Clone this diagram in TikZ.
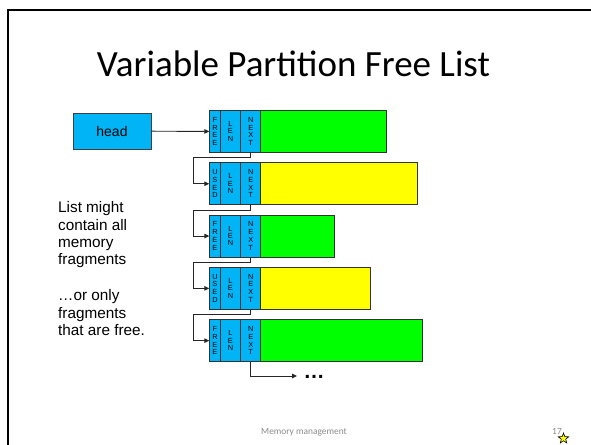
\documentclass[tikz,border=0pt]{standalone}
\usepackage{fontspec}
\setmainfont{Liberation Sans}
\newfontfamily\slidefont{Carlito}
\usetikzlibrary{shapes.geometric,arrows.meta}
\definecolor{cellblue}{RGB}{0,180,245}
\definecolor{freegreen}{RGB}{0,255,0}
\definecolor{usedyellow}{RGB}{255,255,0}
\definecolor{footgray}{RGB}{140,140,140}
\tikzset{
  cell/.style={draw=black!80, line width=0.9pt, minimum height=42pt, inner sep=0pt,
    anchor=north west, align=center, font=\fontsize{7.4}{7.8}\selectfont},
  tag/.style={cell, fill=cellblue, minimum width=10.4pt},
  lenfield/.style={cell, fill=cellblue, minimum width=20.6pt, font=\fontsize{7.4}{7.4}\selectfont},
  nextfield/.style={cell, fill=cellblue, minimum width=20pt},
  freedata/.style={cell, fill=freegreen},
  useddata/.style={cell, fill=usedyellow},
  headbox/.style={draw=black!75, line width=0.9pt, fill=cellblue, minimum width=78pt,
    minimum height=36pt, inner sep=0pt, font=\fontsize{14}{16}\selectfont},
  link/.style={draw=black!85, line width=0.9pt, -{Triangle[length=5pt,width=4.5pt]}},
  bodytext/.style={anchor=north west, inner sep=0pt, align=left,
    font=\fontsize{15.3}{17.3}\selectfont},
}
\begin{document}
\begin{tikzpicture}[x=1pt,y=-1pt]
\useasboundingbox (0,0) rectangle (591,444);
\fill[white] (0,0) rectangle (591,444);
% slide frame
\draw[line width=2.2pt] (7.7,446) -- (7.7,9.7) -- (593,9.7);

% title
\node[anchor=base, inner sep=0pt, font=\slidefont\fontsize{37}{40}\selectfont] (title) at (293.5,76) {Variable Partition Free List};

% head pointer
\node[headbox] (head) at (112,131) {head};

% row 1: free
\node[tag]       (s1) at (209.3,110) {F\\R\\E\\E};
\node[lenfield]  (l1) at (219.7,110) {L\\E\\N};
\node[nextfield] (n1) at (240.3,110) {N\\E\\X\\T};
\node[freedata, minimum width=125.7pt] (d1) at (260.3,110) {};
% row 2: used
\node[tag]       (s2) at (209.3,162.3) {U\\S\\E\\D};
\node[lenfield]  (l2) at (219.7,162.3) {L\\E\\N};
\node[nextfield] (n2) at (240.3,162.3) {N\\E\\X\\T};
\node[useddata, minimum width=156.7pt] (d2) at (260.3,162.3) {};
% row 3: free
\node[tag]       (s3) at (209.3,214.6) {F\\R\\E\\E};
\node[lenfield]  (l3) at (219.7,214.6) {L\\E\\N};
\node[nextfield] (n3) at (240.3,214.6) {N\\E\\X\\T};
\node[freedata, minimum width=73.7pt] (d3) at (260.3,214.6) {};
% row 4: used
\node[tag]       (s4) at (209.3,266.9) {U\\S\\E\\D};
\node[lenfield]  (l4) at (219.7,266.9) {L\\E\\N};
\node[nextfield] (n4) at (240.3,266.9) {N\\E\\X\\T};
\node[useddata, minimum width=109.7pt] (d4) at (260.3,266.9) {};
% row 5: free
\node[tag]       (s5) at (209.3,319.2) {F\\R\\E\\E};
\node[lenfield]  (l5) at (219.7,319.2) {L\\E\\N};
\node[nextfield] (n5) at (240.3,319.2) {N\\E\\X\\T};
\node[freedata, minimum width=161.7pt] (d5) at (260.3,319.2) {};

% continuation
\node[inner sep=0pt, anchor=base west, font=\bfseries\fontsize{21}{24}\selectfont] (more) at (303.5,378) {…};
\coordinate (tail) at (297,376);

% links
\draw[link] (head) -- (s1.west);
\draw[link] (n1.south) -- ++(0,5) -| ([xshift=-16pt]s2.west) -- (s2.west);
\draw[link] (n2.south) -- ++(0,5) -| ([xshift=-16pt]s3.west) -- (s3.west);
\draw[link] (n3.south) -- ++(0,5) -| ([xshift=-16pt]s4.west) -- (s4.west);
\draw[link] (n4.south) -- ++(0,5) -| ([xshift=-16pt]s5.west) -- (s5.west);
\draw[link] (n5.south) |- (tail);

% side notes
\node[bodytext] (note1) at (58,201.5) {List might\\contain all\\memory\\fragments};
\node[bodytext] (note2) at (58,289.5) {…or only\\fragments\\that are free.};

% footer
\node[anchor=base, inner sep=0pt, text=footgray, font=\slidefont\fontsize{9.4}{11}\selectfont] (foot) at (304,434.5) {Memory management};
\node[anchor=base, inner sep=0pt, text=footgray, font=\slidefont\fontsize{9.4}{11}\selectfont] (page) at (557,434.5) {17};
\node[star, star points=5, star point ratio=2.4, minimum size=11pt, inner sep=0pt,
  fill=usedyellow, draw=black, line width=0.6pt] (mark) at (563.5,438.5) {};
\end{tikzpicture}
\end{document}
